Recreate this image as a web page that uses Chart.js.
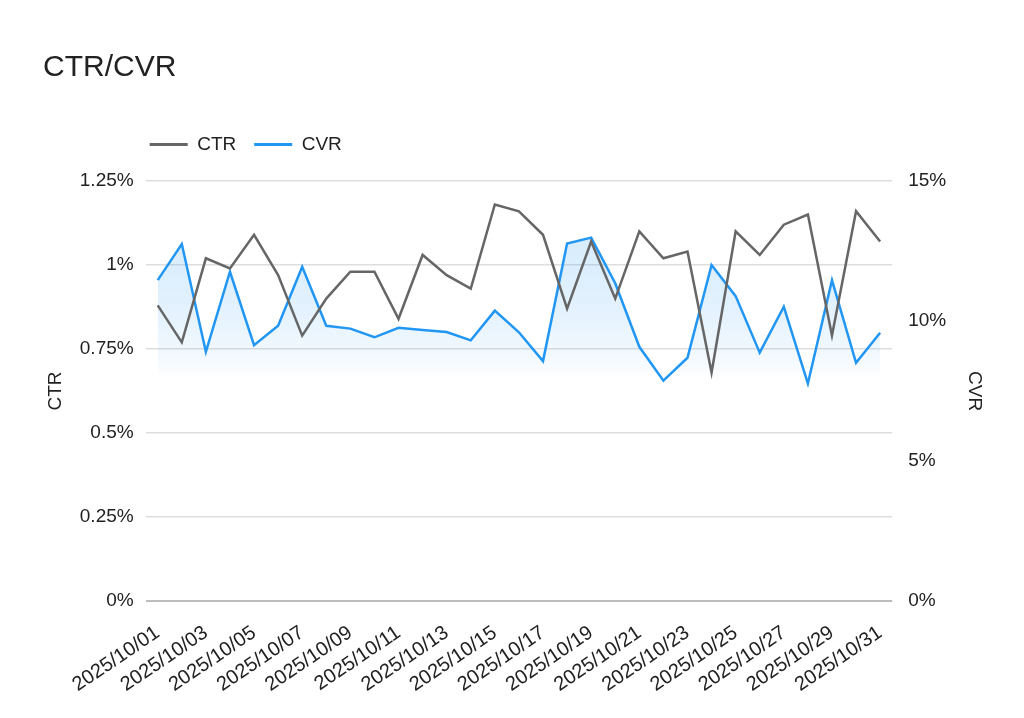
<!DOCTYPE html>
<html lang="en">
<head>
    <meta charset="UTF-8">
    <title>CTR/CVR</title>
    <script src="https://cdn.jsdelivr.net/npm/chart.js"></script>
    <style>
        body {
            margin: 0;
            padding: 0;
            background: #fff;
        }
        #wrap {
            width: 1024px;
            height: 718px;
        }
    </style>
</head>
<body>
    <div id="wrap"><canvas id="chart"></canvas></div>

    <script>
        // Data
        const dates = [
            '2025/10/01', '2025/10/02', '2025/10/03', '2025/10/04', '2025/10/05', '2025/10/06',
            '2025/10/07', '2025/10/08', '2025/10/09', '2025/10/10', '2025/10/11', '2025/10/12',
            '2025/10/13', '2025/10/14', '2025/10/15', '2025/10/16', '2025/10/17', '2025/10/18',
            '2025/10/19', '2025/10/20', '2025/10/21', '2025/10/22', '2025/10/23', '2025/10/24',
            '2025/10/25', '2025/10/26', '2025/10/27', '2025/10/28', '2025/10/29', '2025/10/30',
            '2025/10/31'
        ];
        // CTR in percent (left axis)
        const ctr = [
            0.88, 0.77, 1.02, 0.99, 1.09, 0.97, 0.79, 0.90, 0.98, 0.98, 0.84, 1.03,
            0.97, 0.93, 1.18, 1.16, 1.09, 0.87, 1.07, 0.90, 1.10, 1.02, 1.04, 0.68,
            1.10, 1.03, 1.12, 1.15, 0.79, 1.16, 1.07
        ];
        // CVR in percent (right axis)
        const cvr = [
            11.46, 12.75, 8.90, 11.76, 9.14, 9.83, 11.94, 9.83, 9.73, 9.42, 9.76, 9.68,
            9.61, 9.31, 10.37, 9.60, 8.57, 12.77, 12.98, 11.35, 9.08, 7.87, 8.69, 12.00,
            10.89, 8.87, 10.51, 7.77, 11.46, 8.51, 9.58
        ];
        const ctrTicks = [0, 0.25, 0.5, 0.75, 1, 1.25];
        const cvrTicks = [0, 5, 10, 15];

        const fontFamily = "'Liberation Sans', Arial, sans-serif";
        const textColor = '#222';

        // shift legend to where the reference puts it
        const placeBlocks = {
            id: 'placeBlocks',
            beforeInit(chart) {
                const fit = chart.legend.fit;
                chart.legend.fit = function () {
                    fit.bind(chart.legend)();
                    this.height += 17;
                };
            },
            afterLayout(chart) {
                chart.legend.left = chart.chartArea.left - 14;
            }
        };

        // light blue fill fading out toward the middle of the plot
        function cvrFill(context) {
            const area = context.chart.chartArea;
            if (!area) return 'rgba(33,150,243,0.12)';
            const g = context.chart.ctx.createLinearGradient(0, area.top, 0, area.bottom);
            g.addColorStop(0, 'rgba(33,150,243,0.22)');
            g.addColorStop(0.3, 'rgba(33,150,243,0.13)');
            g.addColorStop(0.44, 'rgba(33,150,243,0.04)');
            g.addColorStop(0.47, 'rgba(33,150,243,0)');
            g.addColorStop(1, 'rgba(33,150,243,0)');
            return g;
        }

        const ctx = document.getElementById('chart').getContext('2d');
        new Chart(ctx, {
            type: 'line',
            data: {
                labels: dates,
                datasets: [
                    {
                        label: 'CTR',
                        data: ctr,
                        yAxisID: 'y',
                        borderColor: '#666666',
                        backgroundColor: '#666666',
                        borderWidth: 2.5,
                        pointRadius: 0,
                        tension: 0,
                        fill: false,
                        order: 0
                    },
                    {
                        label: 'CVR',
                        data: cvr,
                        yAxisID: 'y1',
                        borderColor: '#2196f3',
                        backgroundColor: cvrFill,
                        borderWidth: 2.5,
                        pointRadius: 0,
                        tension: 0,
                        fill: 'origin',
                        order: 1
                    }
                ]
            },
            options: {
                responsive: true,
                maintainAspectRatio: false,
                animation: false,
                layout: {
                    padding: { left: 43, right: 37, top: 42, bottom: 1 }
                },
                plugins: {
                    title: {
                        display: true,
                        text: 'CTR/CVR',
                        align: 'start',
                        color: textColor,
                        font: { family: fontFamily, size: 30, weight: 'normal' },
                        padding: { top: 8, bottom: 31 }
                    },
                    legend: {
                        position: 'top',
                        align: 'start',
                        labels: {
                            color: textColor,
                            font: { family: fontFamily, size: 19 },
                            boxWidth: 38,
                            boxHeight: 3,
                            padding: 18,
                            generateLabels(chart) {
                                return Chart.defaults.plugins.legend.labels.generateLabels(chart).map(item => {
                                    item.fillStyle = item.strokeStyle;
                                    item.lineWidth = 0;
                                    return item;
                                });
                            }
                        }
                    },
                    tooltip: { enabled: false }
                },
                scales: {
                    x: {
                        offset: true,
                        grid: { display: false, drawTicks: false },
                        border: { display: false },
                        ticks: {
                            autoSkip: false,
                            maxRotation: 34,
                            minRotation: 34,
                            padding: 20,
                            color: textColor,
                            font: { family: fontFamily, size: 20 },
                            callback(value, index) {
                                return index % 2 === 0 ? dates[index] : null;
                            }
                        }
                    },
                    y: {
                        position: 'left',
                        min: 0,
                        max: 1.25,
                        afterBuildTicks(scale) {
                            scale.ticks = ctrTicks.map(v => ({ value: v }));
                        },
                        grid: {
                            drawTicks: false,
                            color(c) { return c.tick && c.tick.value === 0 ? '#bdbdbd' : '#dedede'; },
                            lineWidth(c) { return c.tick && c.tick.value === 0 ? 2 : 1.5; }
                        },
                        border: { display: false },
                        ticks: {
                            padding: 12,
                            color: textColor,
                            font: { family: fontFamily, size: 19 },
                            callback(value) { return value + '%'; }
                        },
                        title: {
                            display: true,
                            text: 'CTR',
                            color: textColor,
                            font: { family: fontFamily, size: 19 },
                            padding: 1
                        }
                    },
                    y1: {
                        position: 'right',
                        min: 0,
                        max: 15,
                        afterBuildTicks(scale) {
                            scale.ticks = cvrTicks.map(v => ({ value: v }));
                        },
                        grid: { display: false, drawTicks: false },
                        border: { display: false },
                        ticks: {
                            padding: 16,
                            color: textColor,
                            font: { family: fontFamily, size: 19 },
                            callback(value) { return value + '%'; }
                        },
                        title: {
                            display: true,
                            text: 'CVR',
                            color: textColor,
                            font: { family: fontFamily, size: 19 },
                            padding: 1
                        }
                    }
                }
            },
            plugins: [placeBlocks]
        });
    </script>
</body>
</html>
